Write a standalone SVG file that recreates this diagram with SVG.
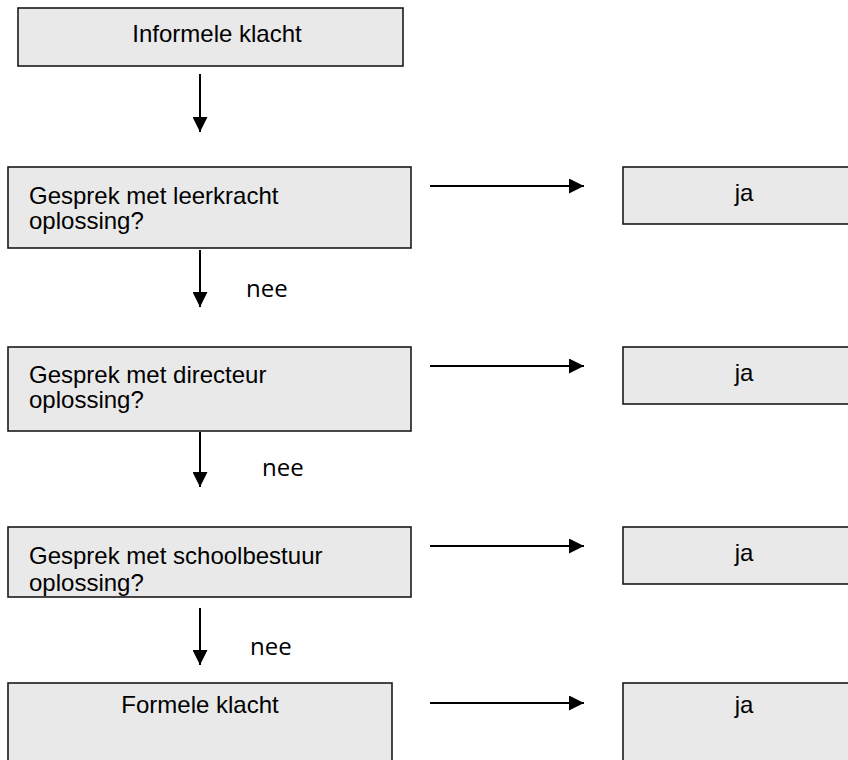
<svg xmlns="http://www.w3.org/2000/svg" width="848" height="760" viewBox="0 0 848 760">
<style>
.box{fill:#e9e9e9;stroke:#1a1a1a;stroke-width:1.6}
.t{font-family:"Liberation Sans",Arial,sans-serif;font-size:24px;fill:#000}
.n{font-family:"Open Sans","Noto Sans",sans-serif;font-size:24px;fill:#000}
.c{stroke:#000;stroke-width:2;fill:none}
</style>
<defs>
<marker id="ah" viewBox="0 0 10 10" refX="10" refY="5" markerWidth="15" markerHeight="15" markerUnits="userSpaceOnUse" orient="auto">
<path d="M0,0 L10,5 L0,10 Z" fill="#000"/>
</marker>
<clipPath id="clip3"><rect x="8" y="527" width="403" height="70"/></clipPath>
</defs>
<rect width="848" height="760" fill="#fff"/>
<g id="informele">
<rect class="box" x="18" y="8" width="385" height="58"/>
<text class="t" x="217" y="42" text-anchor="middle">Informele klacht</text>
</g>
<g id="leerkracht">
<rect class="box" x="8" y="167" width="403" height="81"/>
<text class="t" x="29" y="204">Gesprek met leerkracht</text>
<text class="t" x="29" y="229">oplossing?</text>
</g>
<g id="ja1">
<rect class="box" x="623" y="167" width="240" height="57"/>
<text class="t" x="744" y="201" text-anchor="middle">ja</text>
</g>
<g id="directeur">
<rect class="box" x="8" y="347" width="403" height="84"/>
<text class="t" x="29" y="383">Gesprek met directeur</text>
<text class="t" x="29" y="408">oplossing?</text>
</g>
<g id="ja2">
<rect class="box" x="623" y="347" width="240" height="57"/>
<text class="t" x="744" y="381" text-anchor="middle">ja</text>
</g>
<g id="schoolbestuur">
<rect class="box" x="8" y="527" width="403" height="70"/>
<g clip-path="url(#clip3)">
<text class="t" x="29" y="564">Gesprek met schoolbestuur</text>
<text class="t" x="29" y="591">oplossing?</text>
</g>
</g>
<g id="ja3">
<rect class="box" x="623" y="527" width="240" height="57"/>
<text class="t" x="744" y="561" text-anchor="middle">ja</text>
</g>
<g id="formele">
<rect class="box" x="8" y="683" width="384" height="100"/>
<text class="t" x="200" y="713" text-anchor="middle">Formele klacht</text>
</g>
<g id="ja4">
<rect class="box" x="623" y="683" width="240" height="100"/>
<text class="t" x="744" y="713" text-anchor="middle">ja</text>
</g>
<g id="connectors">
<line class="c" x1="200" y1="74" x2="200" y2="132" marker-end="url(#ah)"/>
<line class="c" x1="200" y1="250" x2="200" y2="307" marker-end="url(#ah)"/>
<line class="c" x1="200" y1="432" x2="200" y2="487" marker-end="url(#ah)"/>
<line class="c" x1="200" y1="608" x2="200" y2="665" marker-end="url(#ah)"/>
<line class="c" x1="430" y1="186" x2="584" y2="186" marker-end="url(#ah)"/>
<line class="c" x1="430" y1="366" x2="584" y2="366" marker-end="url(#ah)"/>
<line class="c" x1="430" y1="546" x2="584" y2="546" marker-end="url(#ah)"/>
<line class="c" x1="430" y1="703" x2="584" y2="703" marker-end="url(#ah)"/>
<text class="n" x="246" y="297">nee</text>
<text class="n" x="262" y="476">nee</text>
<text class="n" x="250" y="655">nee</text>
</g>
</svg>
